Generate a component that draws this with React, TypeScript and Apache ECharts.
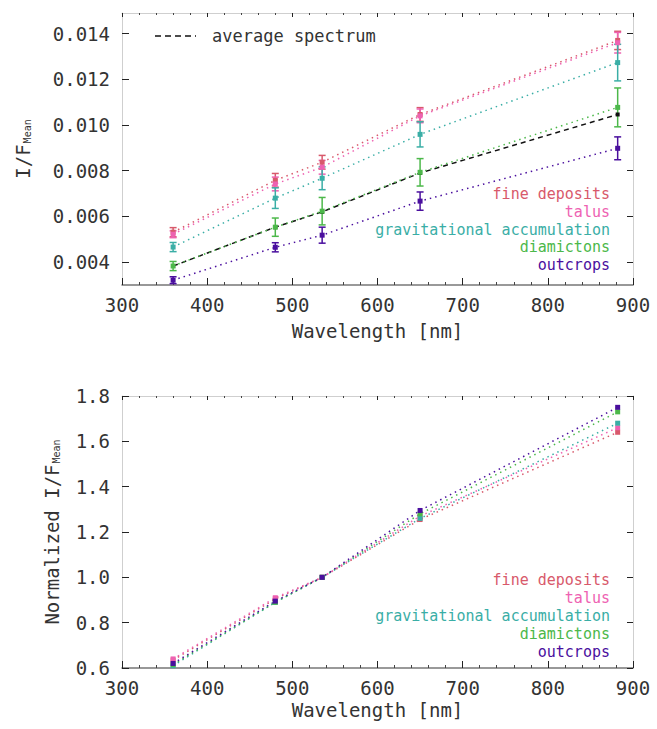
import React, { useEffect, useRef } from "react";
import * as echarts from "echarts";

// ---------- data ----------
const wavelengths = [360, 480, 535, 650, 882];
const unitNames = ["fine deposits", "talus", "gravitational accumulation", "diamictons", "outcrops"];
const unitColors = ["#d8596b", "#ee62b2", "#3aaea6", "#4cb84a", "#4a0f9e"];

const fineDeposits = [0.00531, 0.00758, 0.00837, 0.01046, 0.0137];
const talus = [0.00522, 0.00742, 0.00815, 0.0104, 0.0136];
const gravitational = [0.00466, 0.0068, 0.00767, 0.00959, 0.01273];
const diamictons = [0.00383, 0.00553, 0.00623, 0.00793, 0.01077];
const outcrops = [0.00321, 0.00465, 0.00518, 0.00667, 0.00898];
const averageSpectrum = [0.00383, 0.00553, 0.0062, 0.0079, 0.01046];

const fineDepositsErr = [0.0002, 0.0003, 0.0003, 0.0003, 0.0004];
const talusErr = [0.00015, 0.0003, 0.0003, 0.0003, 0.00045];
const gravitationalErr = [0.0002, 0.00045, 0.0005, 0.00055, 0.0008];
const diamictonsErr = [0.0002, 0.0004, 0.0006, 0.0006, 0.00085];
const outcropsErr = [0.00015, 0.0002, 0.00035, 0.0004, 0.0005];

const fineDepositsNorm = [0.635, 0.905, 1.0, 1.255, 1.64];
const talusNorm = [0.64, 0.91, 1.0, 1.27, 1.66];
const gravitationalNorm = [0.61, 0.89, 1.0, 1.26, 1.68];
const diamictonsNorm = [0.615, 0.89, 1.0, 1.28, 1.73];
const outcropsNorm = [0.62, 0.895, 1.0, 1.295, 1.75];

const topYTicks = [0.004, 0.006, 0.008, 0.01, 0.012, 0.014];
const bottomYTicks = [0.6, 0.8, 1.0, 1.2, 1.4, 1.6, 1.8];
const averageLabel = "average spectrum";
const xTitle = "Wavelength [nm]";

const topSeries = [fineDeposits, talus, gravitational, diamictons, outcrops];
const topErrors = [fineDepositsErr, talusErr, gravitationalErr, diamictonsErr, outcropsErr];
const bottomSeries = [fineDepositsNorm, talusNorm, gravitationalNorm, diamictonsNorm, outcropsNorm];

const FONT = "DejaVu Sans Mono";
const TXT = "#333333";

function zip(xs: number[], ys: number[]) {
  return xs.map((x, i) => [x, ys[i]]);
}

export default function App() {
  const ref = useRef<HTMLDivElement>(null);
  useEffect(() => {
    document.body.style.margin = "0";
    if (!ref.current) return;
    const chart = echarts.init(ref.current, null, { renderer: "svg" });

    const gridLeft = 122;
    const gridW = 511;
    const grids = [
      { left: gridLeft, top: 13, width: gridW, height: 272 },
      { left: gridLeft, top: 396, width: gridW, height: 272 },
    ];

    const xBottom = (gi: number, gap: number) => ({
      type: "value",
      gridIndex: gi,
      min: 300,
      max: 900,
      interval: 100,
      position: "bottom",
      axisLine: { show: true, lineStyle: { color: "#777", width: 1.5 } },
      axisTick: { show: true, inside: true, length: 7, lineStyle: { color: "#222" } },
      minorTick: { show: true, splitNumber: 5, length: 3, lineStyle: { color: "#444" } },
      splitLine: { show: false },
      axisLabel: { fontFamily: FONT, fontSize: 19, color: TXT, margin: 10 },
      name: xTitle,
      nameLocation: "middle",
      nameGap: gap,
      nameTextStyle: { fontFamily: FONT, fontSize: 19, color: TXT },
    });
    const xTop = (gi: number) => ({
      type: "value",
      gridIndex: gi,
      min: 300,
      max: 900,
      interval: 100,
      position: "top",
      axisLine: { show: true, lineStyle: { color: "#cfcfcf", width: 1 } },
      axisTick: { show: true, inside: true, length: 4, lineStyle: { color: "#222" } },
      minorTick: { show: true, splitNumber: 5, length: 2, lineStyle: { color: "#444" } },
      splitLine: { show: false },
      axisLabel: { show: false },
    });

    const yLeftTop = {
      type: "value",
      gridIndex: 0,
      min: 0.003,
      max: 0.0149,
      position: "left",
      axisLine: { show: true, lineStyle: { color: "#cfcfcf" } },
      axisTick: { show: true, inside: true, length: 7, customValues: topYTicks, lineStyle: { color: "#222" } },
      splitLine: { show: false },
      axisLabel: {
        customValues: topYTicks,
        fontFamily: FONT,
        fontSize: 19,
        color: TXT,
        margin: 12,
        formatter: (v: number) => v.toFixed(3),
      },
    };
    const yRightTop = {
      type: "value",
      gridIndex: 0,
      min: 0.003,
      max: 0.0149,
      position: "right",
      axisLine: { show: true, lineStyle: { color: "#cfcfcf" } },
      axisTick: { show: true, inside: true, length: 6, customValues: topYTicks, lineStyle: { color: "#222" } },
      splitLine: { show: false },
      axisLabel: { show: false },
    };
    const yLeftBottom = {
      type: "value",
      gridIndex: 1,
      min: 0.6,
      max: 1.8,
      interval: 0.2,
      position: "left",
      axisLine: { show: true, lineStyle: { color: "#cfcfcf" } },
      axisTick: { show: true, inside: true, length: 7, customValues: bottomYTicks, lineStyle: { color: "#222" } },
      splitLine: { show: false },
      axisLabel: {
        customValues: bottomYTicks,
        fontFamily: FONT,
        fontSize: 19,
        color: TXT,
        margin: 12,
        formatter: (v: number) => v.toFixed(1),
      },
    };
    const yRightBottom = {
      type: "value",
      gridIndex: 1,
      min: 0.6,
      max: 1.8,
      interval: 0.2,
      position: "right",
      axisLine: { show: true, lineStyle: { color: "#cfcfcf" } },
      axisTick: { show: true, inside: true, length: 6, lineStyle: { color: "#222" } },
      splitLine: { show: false },
      axisLabel: { show: false },
    };

    const series: any[] = [];
    // error bars (top)
    topSeries.forEach((vals, si) => {
      const color = unitColors[si];
      const errs = topErrors[si];
      series.push({
        type: "custom",
        xAxisIndex: 0,
        yAxisIndex: 0,
        z: 2,
        encode: { x: 0, y: [1, 2] },
        data: wavelengths.map((w, i) => [w, vals[i] - errs[i], vals[i] + errs[i]]),
        renderItem: (params: any, api: any) => {
          const x = api.value(0);
          const p1 = api.coord([x, api.value(1)]);
          const p2 = api.coord([x, api.value(2)]);
          const w = 3.5;
          const st = { stroke: color, lineWidth: 1.5 };
          return {
            type: "group",
            children: [
              { type: "line", shape: { x1: p1[0], y1: p1[1], x2: p2[0], y2: p2[1] }, style: st },
              { type: "line", shape: { x1: p1[0] - w, y1: p1[1], x2: p1[0] + w, y2: p1[1] }, style: st },
              { type: "line", shape: { x1: p2[0] - w, y1: p2[1], x2: p2[0] + w, y2: p2[1] }, style: st },
            ],
          };
        },
      });
    });
    // average spectrum
    series.push({
      name: averageLabel,
      type: "line",
      xAxisIndex: 0,
      yAxisIndex: 0,
      z: 3,
      data: zip(wavelengths, averageSpectrum),
      symbol: "rect",
      symbolSize: 4,
      itemStyle: { color: "#111" },
      lineStyle: { color: "#111", width: 1.5, type: [5, 4] },
    });
    topSeries.forEach((vals, si) => {
      series.push({
        name: unitNames[si],
        type: "line",
        xAxisIndex: 0,
        yAxisIndex: 0,
        z: 4,
        data: zip(wavelengths, vals),
        symbol: "rect",
        symbolSize: 5,
        itemStyle: { color: unitColors[si] },
        lineStyle: { color: unitColors[si], width: 1.5, type: [1.5, 4] },
      });
    });
    bottomSeries.forEach((vals, si) => {
      series.push({
        name: unitNames[si] + " (normalized)",
        type: "line",
        xAxisIndex: 2,
        yAxisIndex: 2,
        z: 4,
        data: zip(wavelengths, vals),
        symbol: "rect",
        symbolSize: 5,
        itemStyle: { color: unitColors[si] },
        lineStyle: { color: unitColors[si], width: 1.5, type: [1.5, 4] },
      });
    });

    const graphics: any[] = [];
    const rich = {
      a: { fontFamily: FONT, fontSize: 19, fill: TXT, color: TXT },
      s: { fontFamily: FONT, fontSize: 10, fill: TXT, color: TXT, padding: [9, 0, 0, 1] },
    };
    graphics.push({
      type: "text",
      x: 23,
      y: 149,
      rotation: Math.PI / 2,
      style: { text: "{a|I/F}{s|Mean}", rich, align: "center", verticalAlign: "middle" },
    });
    graphics.push({
      type: "text",
      x: 52,
      y: 532,
      rotation: Math.PI / 2,
      style: { text: "{a|Normalized I/F}{s|Mean}", rich, align: "center", verticalAlign: "middle" },
    });
    // average legend
    graphics.push({
      type: "line",
      shape: { x1: 155, y1: 36, x2: 196, y2: 36 },
      style: { stroke: "#111", lineWidth: 1.5, lineDash: [6, 4] },
    });
    graphics.push({
      type: "text",
      x: 212,
      y: 36,
      style: { text: averageLabel, fontFamily: FONT, fontSize: 17, fill: TXT, align: "left", verticalAlign: "middle" },
    });
    const legendTopY = [194, 212, 230, 247, 265];
    const legendBottomY = [580, 598, 616, 634, 652];
    unitNames.forEach((n, i) => {
      graphics.push({
        type: "text",
        x: 610,
        y: legendTopY[i],
        style: {
          text: n,
          fontFamily: FONT,
          fontSize: 15,
          lineHeight: 16,
          fill: unitColors[i],
          align: "right",
          verticalAlign: "middle",
        },
      });
      graphics.push({
        type: "text",
        x: 610,
        y: legendBottomY[i],
        style: {
          text: n,
          fontFamily: FONT,
          fontSize: 15,
          lineHeight: 16,
          fill: unitColors[i],
          align: "right",
          verticalAlign: "middle",
        },
      });
    });

    chart.setOption({
      animation: false,
      backgroundColor: "#ffffff",
      grid: grids,
      xAxis: [xBottom(0, 36), xTop(0), xBottom(1, 32), xTop(1)],
      yAxis: [yLeftTop, yRightTop, yLeftBottom, yRightBottom],
      series,
      graphic: graphics,
    } as any);
    return () => chart.dispose();
  }, []);
  return <div ref={ref} style={{ width: 657, height: 729 }} />;
}
